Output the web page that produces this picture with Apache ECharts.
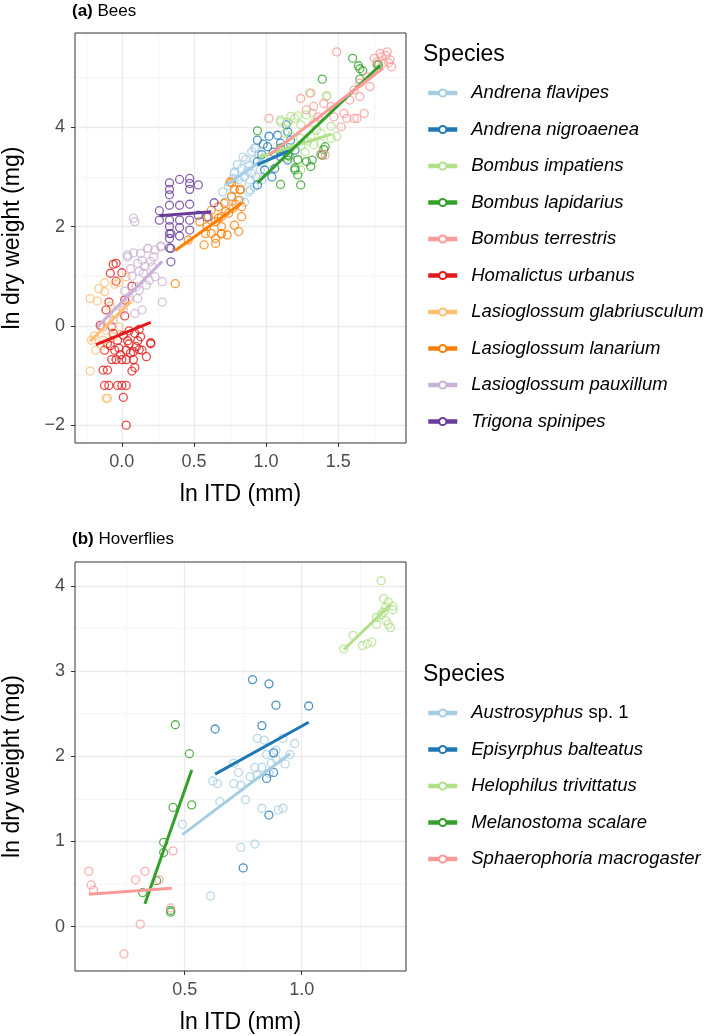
<!DOCTYPE html>
<html>
<head>
<meta charset="utf-8">
<script src="https://cdn.jsdelivr.net/npm/echarts@6/dist/echarts.min.js"></script>
<style>
html,body{margin:0;padding:0;background:#fff;}
#c{width:709px;height:1036px;}
</style>
</head>
<body>
<div id="c"></div>
<script>
// ---------- Panel (a) Bees ----------
const beeSpecies = ['Andrena flavipes','Andrena nigroaenea','Bombus impatiens','Bombus lapidarius','Bombus terrestris','Homalictus urbanus','Lasioglossum glabriusculum','Lasioglossum lanarium','Lasioglossum pauxillum','Trigona spinipes'];
const beeColors = ['#A6CEE3','#1F78B4','#B2DF8A','#33A02C','#FB9A99','#E31A1C','#FDBF6F','#FF7F00','#CAB2D6','#6A3D9A'];

const afPts = [[0.78,3.10],[0.83,3.17],[0.88,3.24],[0.92,3.34],[0.90,3.51],[0.93,3.58],[0.85,3.00],[0.89,2.94],[0.92,2.80],[0.88,2.70],[0.82,2.53],[0.83,2.87],[0.77,2.97],[0.96,3.14],[0.97,2.94],[0.98,3.38],[0.90,3.07],[0.93,3.00],[0.78,3.07],[0.89,2.74],[0.85,2.49],[0.92,3.58],[0.70,2.70],[0.74,2.82],[0.80,3.25],[0.86,3.35],[0.81,2.95],[0.76,2.62],[0.95,3.45],[0.87,3.12],[0.72,2.50],[0.84,3.40]];
const anPts = [[0.94,3.74],[0.98,3.66],[1.02,3.82],[1.08,3.84],[1.14,4.05],[1.15,3.91],[1.01,3.61],[1.10,3.41],[1.15,3.34],[1.20,3.54],[0.94,3.31],[0.99,3.14],[1.06,3.17],[1.04,3.00],[0.94,2.84],[1.10,3.68],[1.17,3.74],[1.05,3.50],[1.12,3.60],[0.97,3.45]];
const biPts = [[1.42,4.64],[1.30,4.69],[1.17,4.22],[1.22,4.23],[1.28,4.25],[1.32,4.29],[1.15,4.09],[1.24,4.05],[1.33,4.09],[1.45,4.02],[1.49,3.82],[1.45,3.78],[1.38,3.88],[1.31,3.82],[1.24,3.78],[1.17,3.82],[1.13,3.88],[1.33,3.65],[1.24,3.62],[1.17,3.58],[1.38,3.68],[1.29,3.72],[1.10,4.15],[1.15,4.11],[1.20,4.18],[0.99,3.34],[1.15,3.38],[1.24,3.14],[1.22,3.34],[1.10,4.11],[1.42,4.62],[1.27,3.50],[1.35,3.95]];
const blPts = [[0.94,3.93],[1.10,2.85],[1.24,2.84],[1.39,4.97],[1.60,5.39],[1.64,5.24],[1.67,5.14],[1.65,4.97],[1.77,5.26],[1.20,3.14],[1.22,3.04],[1.28,3.31],[1.32,3.34],[1.41,3.61],[1.39,3.44],[1.10,3.58],[1.15,3.44],[1.16,3.42],[1.22,3.35],[1.38,3.45],[1.40,3.55],[1.31,3.21],[1.20,3.18],[1.65,5.18],[1.78,5.26]];
const btPts = [[1.49,5.52],[1.02,4.18],[1.75,5.39],[1.79,5.49],[1.84,5.52],[1.86,5.36],[1.81,5.29],[1.87,5.22],[1.24,4.58],[1.31,4.69],[1.33,4.42],[1.40,4.48],[1.47,4.21],[1.54,4.28],[1.58,4.55],[1.65,4.62],[1.68,4.28],[1.61,4.18],[1.52,4.01],[1.38,3.46],[1.41,3.44],[1.65,4.89],[1.70,5.02],[1.72,4.82],[1.61,4.75],[1.36,4.21],[1.28,4.35],[1.45,4.42],[1.56,4.18],[1.63,4.18],[1.80,5.42],[1.83,5.45],[1.77,5.32],[1.85,5.30]];
const huPts = [[-0.06,1.24],[-0.04,1.26],[-0.08,1.06],[0.00,1.07],[-0.09,0.48],[0.02,0.52],[-0.11,0.32],[-0.15,0.01],[-0.07,-0.02],[0.01,-0.19],[0.09,-0.15],[0.13,-0.22],[0.20,-0.34],[-0.12,-0.49],[-0.05,-0.49],[0.03,-0.49],[0.14,-0.49],[-0.07,-0.68],[-0.04,-0.68],[0.00,-0.68],[0.03,-0.68],[0.08,-0.68],[0.09,-0.84],[0.07,-0.91],[-0.13,-0.89],[-0.10,-0.89],[-0.12,-1.20],[-0.09,-1.20],[-0.03,-1.20],[0.00,-1.20],[0.03,-1.20],[0.01,-1.44],[0.03,-2.00],[0.05,-0.36],[0.10,-0.42],[-0.10,-0.36],[0.17,-0.62],[-0.03,-0.29],[0.12,-0.07],[0.20,-0.36],[0.04,-0.30],[-0.02,-0.45],[0.06,-0.55],[0.11,-0.30],[-0.06,-0.15],[0.02,0.20],[0.07,0.80],[-0.04,0.90],[0.08,-0.52],[-0.01,-0.58],[0.12,-0.48],[0.05,-0.10],[-0.08,-0.40]];
const lgPts = [[-0.22,0.55],[-0.17,0.50],[-0.12,0.69],[-0.16,0.75],[-0.12,0.87],[-0.05,0.84],[-0.02,0.87],[0.03,0.99],[-0.22,-0.91],[-0.11,-1.46],[-0.10,-1.46],[-0.18,-0.49],[-0.21,-0.29],[-0.13,-0.29],[-0.11,-0.09],[-0.09,0.11],[-0.04,0.25],[0.01,0.42],[0.05,0.52],[-0.14,-0.39],[-0.06,-0.22],[-0.02,-0.02],[-0.19,-0.20],[-0.08,0.40]];
const llPts = [[0.75,2.90],[0.78,2.75],[0.82,2.75],[0.76,2.60],[0.81,2.53],[0.71,2.47],[0.67,2.40],[0.62,2.33],[0.83,2.40],[0.77,2.37],[0.69,2.20],[0.74,2.27],[0.65,2.10],[0.59,2.00],[0.69,2.00],[0.78,2.03],[0.83,2.20],[0.62,1.86],[0.73,1.83],[0.81,1.90],[0.76,2.88],[0.82,2.74],[0.67,2.17],[0.58,1.86],[0.65,1.76],[0.69,1.86],[0.54,2.10],[0.60,2.20],[0.37,0.85],[0.57,1.63],[0.65,1.66],[0.69,1.85],[0.46,1.73],[0.72,2.30],[0.79,2.45]];
const lpPts = [[0.08,1.47],[0.18,1.56],[0.27,1.61],[0.22,1.39],[0.28,0.89],[0.28,0.48],[0.04,1.39],[0.11,1.26],[0.15,1.06],[0.19,0.92],[0.10,0.79],[0.05,0.58],[0.01,0.32],[-0.06,0.11],[-0.13,-0.02],[0.12,0.72],[0.14,0.32],[0.09,0.25],[0.21,1.19],[0.14,1.32],[0.23,0.99],[0.08,2.17],[0.09,2.10],[0.18,1.56],[0.23,1.53],[0.27,1.59],[0.04,1.43],[0.13,1.46],[0.16,1.20],[0.07,1.00],[0.02,0.70],[0.20,1.30],[0.11,0.55],[0.06,1.15],[0.17,0.82],[0.12,1.10]];
const tsPts = [[0.33,2.88],[0.33,2.75],[0.33,2.64],[0.40,2.95],[0.47,2.97],[0.47,2.87],[0.47,2.75],[0.53,2.84],[0.26,2.32],[0.33,2.43],[0.40,2.43],[0.47,2.45],[0.26,2.13],[0.33,2.13],[0.40,2.13],[0.47,2.13],[0.33,2.00],[0.40,1.98],[0.47,1.93],[0.33,1.86],[0.40,1.81],[0.33,1.76],[0.33,1.57],[0.64,2.48],[0.59,2.19],[0.53,2.23],[0.34,1.56],[0.34,1.29],[0.34,1.86]];

const afFit = [[0.72,2.83],[0.98,3.35]];
const anFit = [[0.94,3.25],[1.18,3.55]];
const biFit = [[0.95,3.40],[1.45,3.86]];
const blFit = [[0.94,2.88],[1.79,5.25]];
const btFit = [[1.02,3.44],[1.81,5.19]];
const huFit = [[-0.18,-0.38],[0.20,0.07]];
const lgFit = [[-0.22,-0.31],[0.06,0.48]];
const llFit = [[0.37,1.52],[0.83,2.47]];
const lpFit = [[-0.17,-0.02],[0.28,1.30]];
const tsFit = [[0.26,2.22],[0.62,2.30]];

const beePts = [afPts,anPts,biPts,blPts,btPts,huPts,lgPts,llPts,lpPts,tsPts];
const beeFits = [afFit,anFit,biFit,blFit,btFit,huFit,lgFit,llFit,lpFit,tsFit];
const beeXTicks = [0,0.5,1.0,1.5];
const beeXMinor = [-0.25,0.25,0.75,1.25,1.75];
const beeYTicks = [-2,0,2,4];
const beeYMinor = [-1,1,3,5];

// ---------- Panel (b) Hoverflies ----------
const flySpecies = ['Austrosyphus sp. 1','Episyrphus balteatus','Helophilus trivittatus','Melanostoma scalare','Sphaerophoria macrogaster'];
const flyColors = ['#A6CEE3','#1F78B4','#B2DF8A','#33A02C','#FB9A99'];

const auPts = [[0.81,2.21],[0.84,2.19],[0.92,2.21],[0.97,2.15],[0.89,2.07],[0.95,2.02],[0.71,1.92],[0.73,1.81],[0.62,1.71],[0.64,1.68],[0.71,1.68],[0.74,1.66],[0.80,1.87],[0.83,1.87],[0.87,1.92],[0.93,1.91],[0.78,1.76],[0.81,1.78],[0.65,1.47],[0.76,1.49],[0.83,1.39],[0.90,1.37],[0.92,1.39],[0.49,1.20],[0.74,0.93],[0.80,0.97],[0.61,0.36],[0.86,1.80],[0.89,1.97],[0.85,2.02]];
const ebPts = [[0.79,2.90],[0.86,2.85],[0.89,2.60],[1.03,2.59],[0.63,2.32],[0.83,2.36],[0.88,2.04],[0.88,1.81],[0.85,1.74],[0.86,1.31],[0.75,0.69]];
const htPts = [[1.34,4.06],[1.35,3.85],[1.37,3.81],[1.39,3.76],[1.36,3.75],[1.34,3.66],[1.32,3.63],[1.32,3.55],[1.37,3.55],[1.38,3.51],[1.36,3.59],[1.22,3.42],[1.18,3.26],[1.26,3.30],[1.28,3.32],[1.30,3.34],[1.35,3.69],[1.39,3.72]];
const msPts = [[0.46,2.37],[0.52,2.03],[0.45,1.40],[0.53,1.43],[0.41,0.99],[0.41,0.87],[0.38,0.54],[0.32,0.40],[0.44,0.17],[0.44,0.19]];
const smPts = [[0.09,0.65],[0.10,0.49],[0.11,0.43],[0.29,0.55],[0.33,0.65],[0.39,0.55],[0.45,0.89],[0.44,0.22],[0.31,0.03],[0.24,-0.32]];

const auFit = [[0.49,1.08],[0.95,2.03]];
const ebFit = [[0.63,1.79],[1.03,2.40]];
const htFit = [[1.18,3.25],[1.38,3.78]];
const msFit = [[0.33,0.27],[0.53,1.84]];
const smFit = [[0.09,0.38],[0.445,0.45]];

const flyPts = [auPts,ebPts,htPts,msPts,smPts];
const flyFits = [auFit,ebFit,htFit,msFit,smFit];
const flyXTicks = [0.5,1.0];
const flyXMinor = [0.25,0.75,1.25];
const flyYTicks = [0,1,2,3,4];
const flyYMinor = [0.5,1.5,2.5,3.5];

// ---------- build ----------
const FONT = 'Liberation Sans, Arial, sans-serif';
const fmtX = v => v.toFixed(1);
const fmtY = v => (v < 0 ? '\u2212' + Math.abs(v) : String(v));

function majorAxis(grid, min, max, ticks, fmt, name, isY) {
  return {
    type: 'value', gridIndex: grid, min: min, max: max,
    name: name, nameLocation: 'middle', nameGap: isY ? 51 : 40,
    nameTextStyle: {fontFamily: FONT, fontSize: 23, color: '#000'},
    axisLine: {show: false, onZero: false},
    axisTick: {show: true, length: 4, customValues: ticks, lineStyle: {color: '#333', width: 1}},
    axisLabel: {show: true, customValues: ticks, formatter: fmt, fontFamily: FONT, fontSize: 18, color: '#4D4D4D', margin: isY ? 10 : 10},
    splitLine: {show: true, lineStyle: {color: '#EBEBEB', width: 1.3}},
    z: 1
  };
}
function minorAxis(grid, min, max, ticks) {
  return {
    type: 'value', gridIndex: grid, min: min, max: max,
    axisLine: {show: false, onZero: false},
    axisTick: {show: false, customValues: ticks},
    axisLabel: {show: false, customValues: ticks},
    splitLine: {show: true, lineStyle: {color: '#F2F2F2', width: 0.8}},
    z: 0
  };
}

const series = [];
function addPanel(names, colors, pts, fits, xi, yi) {
  names.forEach((n, i) => {
    series.push({
      type: 'line', name: n, xAxisIndex: xi, yAxisIndex: yi,
      data: fits[i], showSymbol: false, symbol: 'emptyCircle', symbolSize: 7,
      lineStyle: {color: colors[i], width: 3}, itemStyle: {color: colors[i]},
      z: 4, silent: true
    });
  });
  names.forEach((n, i) => {
    series.push({
      type: 'scatter', name: n, xAxisIndex: xi, yAxisIndex: yi,
      data: pts[i], symbol: 'circle', symbolSize: 8,
      itemStyle: {color: 'rgba(255,255,255,0)', borderColor: colors[i], borderWidth: 1.3},
      z: 3, silent: true
    });
  });
}
addPanel(beeSpecies, beeColors, beePts, beeFits, 0, 0);
addPanel(flySpecies, flyColors, flyPts, flyFits, 2, 2);

function legendCfg(names, top) {
  return {
    orient: 'vertical', left: 421, top: top, itemWidth: 29, itemHeight: 9, itemGap: 17.5,
    data: names, selectedMode: false,
    lineStyle: {width: 4.5},
    textStyle: {fontFamily: FONT, fontSize: 18.5, fontStyle: 'italic', color: '#000', padding: [0,0,0,9],
      rich: {n: {fontFamily: FONT, fontSize: 18.5, fontStyle: 'normal', color: '#000'}}},
    formatter: function (name) {
      if (name === 'Austrosyphus sp. 1') return 'Austrosyphus{n| sp. 1}';
      return name;
    }
  };
}

const titleStyle = {fontFamily: FONT, fontSize: 17, fontWeight: 'normal', color: '#000', rich: {b: {fontFamily: FONT, fontSize: 17, fontWeight: 'bold', color: '#000'}}};
const option = {
  animation: false,
  backgroundColor: '#fff',
  title: [
    {text: '{b|(a)} Bees', left: 67, top: -2, textStyle: titleStyle},
    {text: '{b|(b)} Hoverflies', left: 67, top: 526, textStyle: titleStyle},
    {text: 'Species', left: 418, top: 38, textStyle: {fontFamily: FONT, fontSize: 23, fontWeight: 'normal', color: '#000'}},
    {text: 'Species', left: 418, top: 658, textStyle: {fontFamily: FONT, fontSize: 23, fontWeight: 'normal', color: '#000'}}
  ],
  grid: [
    {left: 72, top: 33, width: 334, height: 410, show: true, borderColor: '#333', borderWidth: 1, backgroundColor: 'transparent', z: 5},
    {left: 72, top: 562, width: 334, height: 409, show: true, borderColor: '#333', borderWidth: 1, backgroundColor: 'transparent', z: 5}
  ],
  xAxis: [
    majorAxis(0, -0.325, 1.97, beeXTicks, fmtX, 'ln ITD (mm)', false),
    minorAxis(0, -0.325, 1.97, beeXMinor),
    majorAxis(1, 0.031, 1.446, flyXTicks, fmtX, 'ln ITD (mm)', false),
    minorAxis(1, 0.031, 1.446, flyXMinor)
  ],
  yAxis: [
    majorAxis(0, -2.36, 5.9, beeYTicks, fmtY, 'ln dry weight (mg)', true),
    minorAxis(0, -2.36, 5.9, beeYMinor),
    majorAxis(1, -0.52, 4.28, flyYTicks, fmtY, 'ln dry weight (mg)', true),
    minorAxis(1, -0.52, 4.28, flyYMinor)
  ],
  legend: [legendCfg(beeSpecies, 78.5), legendCfg(flySpecies, 698.5)],
  series: series
};

const chart = echarts.init(document.getElementById('c'), null, {renderer: 'canvas'});
chart.setOption(option);
</script>
</body>
</html>
